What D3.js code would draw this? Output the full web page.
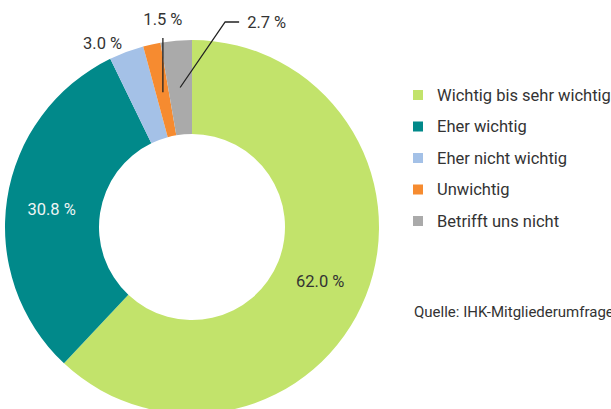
<!DOCTYPE html>
<html>
<head>
<meta charset="utf-8">
<script src="https://cdn.jsdelivr.net/npm/d3@7"></script>
<style>
  body { margin: 0; background: #fff; }
  text { font-family: Roboto, "Liberation Sans", sans-serif; }
</style>
</head>
<body>
<div id="chart"></div>
<script>
// data
var categories = ["Wichtig bis sehr wichtig", "Eher wichtig", "Eher nicht wichtig", "Unwichtig", "Betrifft uns nicht"];
var values = [62.0, 30.8, 3.0, 1.5, 2.7];
var colors = ["#c2e36b", "#01898a", "#a4c1e7", "#f68b30", "#aaaaaa"];
var source = "Quelle: IHK-Mitgliederumfrage";

var width = 611, height = 409;
var cx = 192, cy = 227, outerR = 187, innerR = 93;
var textColor = "#333";

var svg = d3.select("#chart").append("svg")
    .attr("width", width)
    .attr("height", height);

var data = categories.map(function (c, i) {
    return { name: c, value: values[i], color: colors[i] };
});

var pie = d3.pie().sort(null).value(function (d) { return d.value; });
var arcs = pie(data);
var arc = d3.arc().innerRadius(innerR).outerRadius(outerR);
var labelArc = d3.arc().innerRadius(140).outerRadius(140);

var g = svg.append("g").attr("transform", "translate(" + cx + "," + cy + ")");

g.selectAll("path")
    .data(arcs)
    .enter()
    .append("path")
    .attr("d", arc)
    .attr("fill", function (d) { return d.data.color; });

function fmt(v) { return v.toFixed(1) + " %"; }

function label(sel) {
    return sel.attr("dy", "0.35em")
        .style("font-size", "16.5px")
        .style("font-weight", 400)
        .style("fill", textColor);
}

// inside labels for the two big slices
label(g.selectAll("text.inside")
    .data(arcs.slice(0, 2))
    .enter()
    .append("text")
    .attr("class", "inside")
    .attr("transform", function (d) {
        var c = labelArc.centroid(d);
        return "translate(" + (c[0] - 2) + "," + (c[1] + 3) + ")";
    })
    .attr("text-anchor", "middle"))
    .style("fill", function (d, i) { return i === 1 ? "#eef5f5" : textColor; })
    .text(function (d) { return fmt(d.data.value); });

// outside labels
var blue = arcs[2], orange = arcs[3], grey = arcs[4];

var bp = d3.arc().innerRadius(outerR + 18).outerRadius(outerR + 18).centroid(blue);
label(g.append("text")
    .attr("x", bp[0] + 2)
    .attr("y", bp[1] + 8)
    .attr("text-anchor", "end"))
    .text(fmt(blue.data.value));

var op = labelArc.centroid(orange);
g.append("line")
    .attr("x1", op[0] + 1).attr("y1", op[1] + 2)
    .attr("x2", op[0] + 1).attr("y2", -outerR - 2)
    .attr("stroke", "#222").attr("stroke-width", 1.3);
label(g.append("text")
    .attr("x", op[0] + 1)
    .attr("y", -outerR - 21)
    .attr("text-anchor", "middle"))
    .text(fmt(orange.data.value));

var gp = labelArc.centroid(grey);
var elbow = [gp[0] + 45, -outerR - 18];
g.append("polyline")
    .attr("points", [[gp[0], gp[1]], elbow, [elbow[0] + 14, elbow[1]]].map(function (p) { return p.join(","); }).join(" "))
    .attr("fill", "none")
    .attr("stroke", "#222").attr("stroke-width", 1.3);
label(g.append("text")
    .attr("x", elbow[0] + 22)
    .attr("y", elbow[1]))
    .text(fmt(grey.data.value));

// legend
var legend = svg.append("g").attr("transform", "translate(413,95)");
var rowY = d3.scalePoint().domain(categories).range([0, 126]);
var item = legend.selectAll("g")
    .data(data)
    .enter()
    .append("g")
    .attr("transform", function (d) { return "translate(0," + rowY(d.name) + ")"; });
item.append("rect")
    .attr("x", 0).attr("y", -5)
    .attr("width", 10).attr("height", 10)
    .attr("fill", function (d) { return d.color; });
label(item.append("text")
    .attr("x", 24))
    .text(function (d) { return d.name; });

svg.append("text")
    .attr("x", 414)
    .attr("y", 312)
    .attr("dy", "0.35em")
    .style("font-size", "15px")
    .style("font-weight", 400)
    .style("fill", textColor)
    .text(source);
</script>
</body>
</html>
